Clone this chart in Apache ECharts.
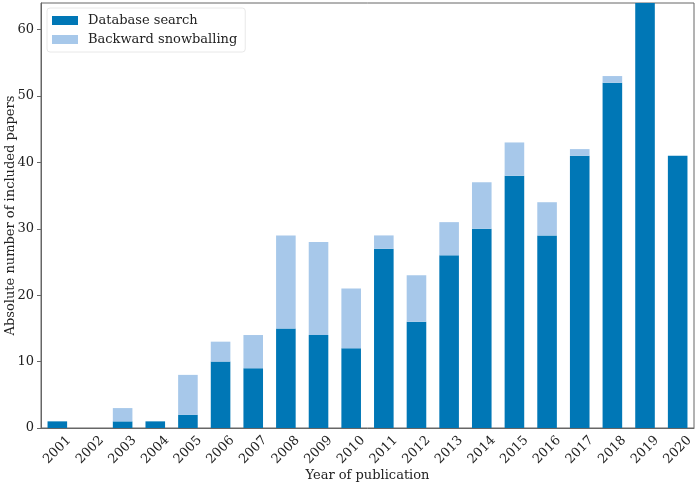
<!DOCTYPE html>
<html>
<head>
<meta charset="utf-8">
<script src="https://cdn.jsdelivr.net/npm/echarts@6/dist/echarts.min.js"></script>
<style>
html, body { margin: 0; padding: 0; background: #fff; }
#mainChart { width: 699px; height: 484px; }
</style>
</head>
<body>
<div id="mainChart"></div>
<script>
var years = ["2001", "2002", "2003", "2004", "2005", "2006", "2007", "2008", "2009", "2010",
    "2011", "2012", "2013", "2014", "2015", "2016", "2017", "2018", "2019", "2020"];
var databaseSearch = [1, 0, 1, 1, 2, 10, 9, 15, 14, 12, 27, 16, 26, 30, 38, 29, 41, 52, 64, 41];
var backwardSnowballing = [0, 0, 2, 0, 6, 3, 5, 14, 14, 9, 2, 7, 5, 7, 5, 5, 1, 1, 0, 0];
var yTicks = [0, 10, 20, 30, 40, 50, 60];

var font = "DejaVu Serif";
var n = echarts.init(document.getElementById("mainChart"));
n.setOption({
    backgroundColor: "#fff",
    animation: false,
    legend: {
        orient: "vertical",
        left: 47, top: 8,
        padding: [6, 8, 6, 5],
        itemWidth: 26, itemHeight: 9,
        itemGap: 6,
        icon: "rect",
        backgroundColor: "#fff",
        borderColor: "#e8e8e8", borderWidth: 1, borderRadius: 3,
        textStyle: { fontFamily: font, fontSize: 13, color: "#222", padding: [0, 0, 0, 5] },
        data: ["Database search", "Backward snowballing"]
    },
    grid: {
        left: 41, right: 5, top: 3, bottom: 56,
        outerBoundsMode: "none",
        show: true, borderColor: "#666", borderWidth: 1
    },
    xAxis: {
        type: "category",
        data: years,
        name: "Year of publication",
        nameLocation: "middle", nameGap: 41, nameMoveOverlap: false,
        nameTextStyle: { fontFamily: font, fontSize: 13, color: "#222" },
        axisLine: { lineStyle: { color: "#666" } },
        axisTick: { alignWithLabel: true, length: 4, lineStyle: { color: "#666" } },
        axisLabel: {
            interval: 0, rotate: 45, margin: 22,
            align: "center", verticalAlign: "middle",
            fontFamily: font, fontSize: 13, color: "#222"
        }
    },
    yAxis: {
        type: "value",
        min: 0, max: 64,
        name: "Absolute number of included papers",
        nameLocation: "middle", nameGap: 24, nameRotate: 90, nameMoveOverlap: false,
        nameTextStyle: { fontFamily: font, fontSize: 13, color: "#222" },
        splitLine: { show: false },
        axisLine: { show: true, lineStyle: { color: "#666" } },
        axisTick: { show: true, length: 4, customValues: yTicks, lineStyle: { color: "#666" } },
        axisLabel: { customValues: yTicks, margin: 7, fontFamily: font, fontSize: 13, color: "#222" }
    },
    series: [{
        name: "Database search", type: "bar", stack: "total",
        barCategoryGap: "40%",
        itemStyle: { color: "#0077b6" },
        data: databaseSearch
    }, {
        name: "Backward snowballing", type: "bar", stack: "total",
        barCategoryGap: "40%",
        itemStyle: { color: "#a7c8ea" },
        data: backwardSnowballing
    }]
});
</script>
</body>
</html>
